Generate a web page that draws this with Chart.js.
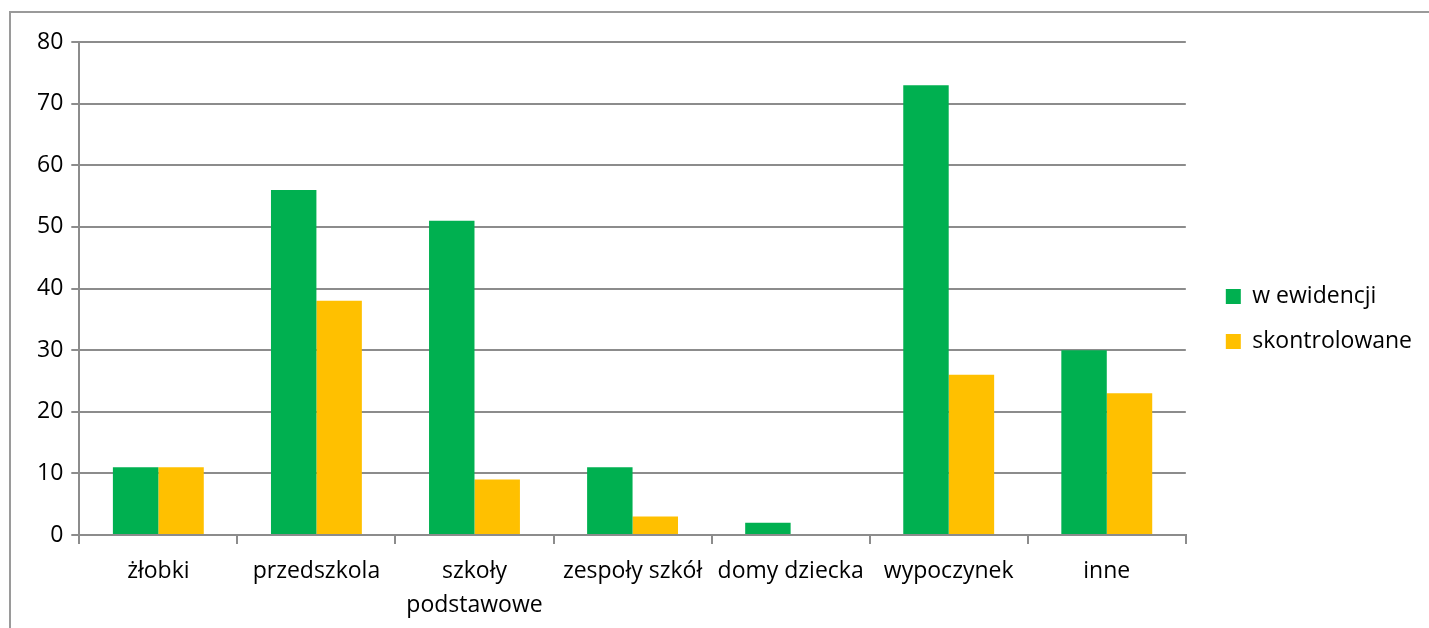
<!DOCTYPE html>
<html lang="pl">
<head>
<meta charset="utf-8">
<title>Placówki w ewidencji i skontrolowane</title>
<script src="https://cdn.jsdelivr.net/npm/chart.js@4.4.1/dist/chart.umd.min.js"></script>
<style>
  html, body { margin: 0; padding: 0; background: #fff; overflow: hidden; }
  #frame {
    position: absolute; left: 9px; top: 11px;
    width: 1440px; height: 640px;
    border: 2px solid #9a9a9a;
  }
  #wrap { position: absolute; left: 0; top: 0; width: 1429px; height: 628px; }
</style>
</head>
<body>
<div id="frame"></div>
<div id="wrap"><canvas id="chart"></canvas></div>
<script>
// categories and series
const categories = ['żłobki', 'przedszkola', ['szkoły', 'podstawowe'], 'zespoły szkół', 'domy dziecka', 'wypoczynek', 'inne'];
const wEwidencji = [11, 56, 51, 11, 2, 73, 30];
const skontrolowane = [11, 38, 9, 3, 0, 26, 23];
const yTicks = [0, 10, 20, 30, 40, 50, 60, 70, 80];

const fontFamily = '"Open Sans", "Noto Sans", sans-serif';
const fontSize = 23;
const gridColor = '#8c8c8c';

// nudge the legend box: a wider gap from the plot than labels.padding gives, and a little higher
const legendGap = {
  id: 'legendGap',
  afterLayout(chart) {
    const lg = chart.legend;
    if (!lg) return;
    lg.left += 18; lg.right += 18;
    lg.top -= 16; lg.bottom -= 16;
  }
};

new Chart(document.getElementById('chart').getContext('2d'), {
  type: 'bar',
  data: {
    labels: categories,
    datasets: [
      { label: 'w ewidencji', data: wEwidencji, backgroundColor: '#00B050' },
      { label: 'skontrolowane', data: skontrolowane, backgroundColor: '#FFC000' }
    ]
  },
  plugins: [legendGap],
  options: {
    responsive: true,
    maintainAspectRatio: false,
    animation: false,
    layout: { padding: { left: 29, top: 42, right: 25, bottom: 0 } },
    datasets: { bar: { categoryPercentage: 0.575, barPercentage: 1 } },
    plugins: {
      tooltip: { enabled: false },
      legend: {
        position: 'right',
        labels: {
          boxWidth: 15, boxHeight: 15, padding: 22,
          color: '#000', font: { family: fontFamily, size: fontSize }
        }
      }
    },
    scales: {
      x: {
        grid: { drawOnChartArea: false, offset: true, tickLength: 9, color: gridColor, lineWidth: 2 },
        border: { color: gridColor, width: 2 },
        ticks: { color: '#000', font: { family: fontFamily, size: fontSize, lineHeight: 1.5 }, padding: 10, maxRotation: 0, autoSkip: false },
        afterFit: scale => { scale.height -= 5; }
      },
      y: {
        min: 0, max: 80,
        afterBuildTicks: axis => { axis.ticks = yTicks.map(v => ({ value: v })); },
        grid: { color: gridColor, lineWidth: 2, tickLength: 8 },
        border: { color: gridColor, width: 2 },
        ticks: { color: '#000', font: { family: fontFamily, size: fontSize }, padding: 8 }
      }
    }
  }
});
</script>
</body>
</html>
